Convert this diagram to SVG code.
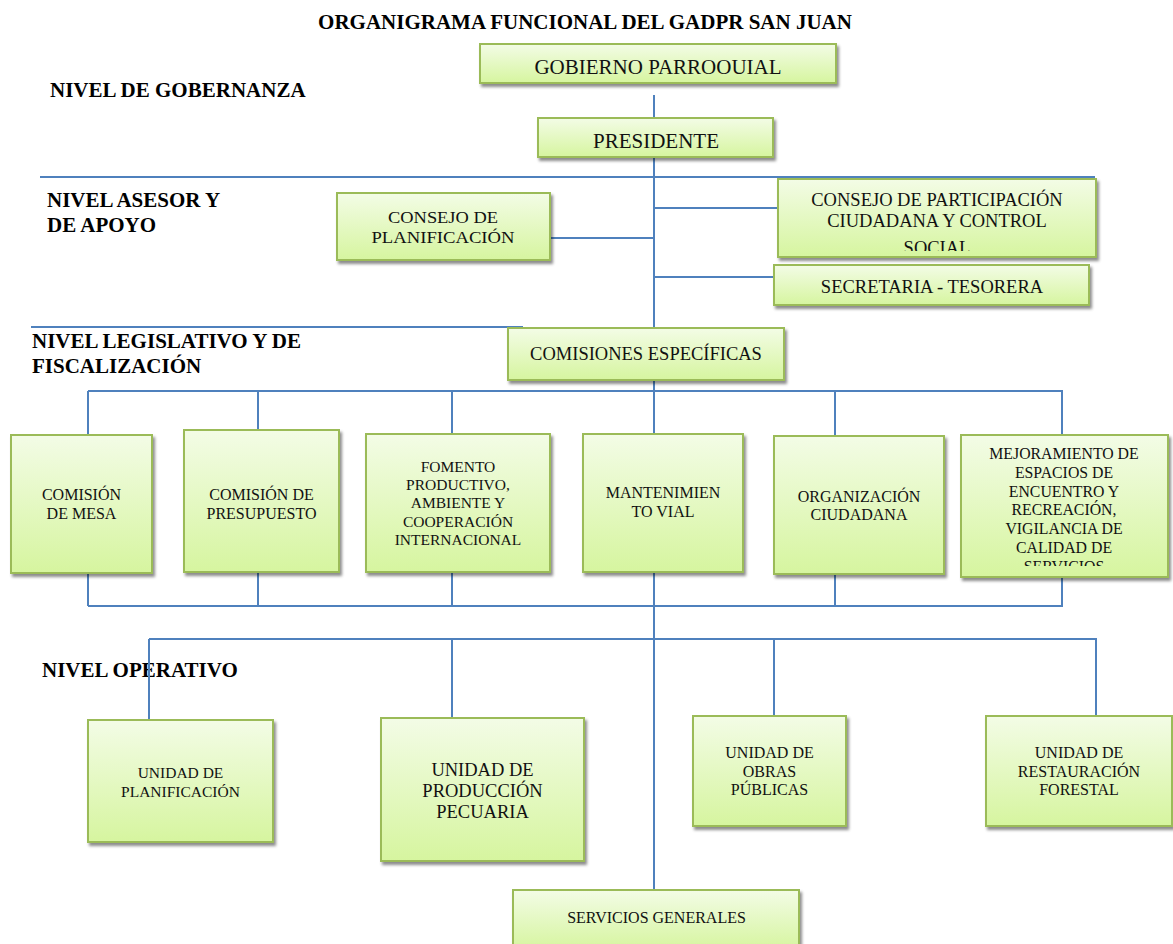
<svg xmlns="http://www.w3.org/2000/svg" width="1173" height="944" viewBox="0 0 1173 944">
<defs>
<linearGradient id="g" x1="0" y1="0" x2="0" y2="1">
<stop offset="0" stop-color="#f3fce6"/>
<stop offset="1" stop-color="#d6f59f"/>
</linearGradient>
<filter id="sh" x="-10%" y="-10%" width="125%" height="130%">
<feDropShadow dx="2" dy="3" stdDeviation="1.8" flood-color="#000" flood-opacity="0.45"/>
</filter>
<clipPath id="c1"><rect x="778" y="179" width="318" height="72"/></clipPath>
<clipPath id="c2"><rect x="961" y="435" width="207" height="131"/></clipPath>
</defs>
<style>
.b{fill:url(#g);stroke:#9bbb59;stroke-width:2;filter:url(#sh)}
.t{font-family:"Liberation Serif","Times New Roman",serif;fill:#111;text-anchor:middle}
.h{font-family:"Liberation Serif","Times New Roman",serif;font-weight:bold;fill:#000;font-size:21px}
.l{stroke:#4f81bd;stroke-width:2;fill:none}
</style>
<rect width="1173" height="944" fill="#fff"/>
<text class="h" x="585" y="29" text-anchor="middle">ORGANIGRAMA FUNCIONAL DEL GADPR SAN JUAN</text>
<g id="labels">
<text class="h" x="50" y="97">NIVEL DE GOBERNANZA</text>
<text class="h" x="47" y="207">NIVEL ASESOR Y</text>
<text class="h" x="47" y="232">DE APOYO</text>
<text class="h" x="32" y="348">NIVEL LEGISLATIVO Y DE</text>
<text class="h" x="32" y="373">FISCALIZACIÓN</text>
<text class="h" x="42" y="677">NIVEL OPERATIVO</text>
</g>
<g id="connectors">
<path class="l" d="M654 95V890"/>
<path class="l" d="M40 177H1095"/>
<path class="l" d="M550 238H654"/>
<path class="l" d="M654 208H778"/>
<path class="l" d="M654 277H774"/>
<path class="l" d="M31 327H523"/>
<path class="l" d="M88 391H1063"/>
<path class="l" d="M88 391V435M258 391V430M452 391V434M835 391V436M1062 391V435"/>
<path class="l" d="M88 573V606M258 572V606M452 572V606M835 574V606M1062 577V606"/>
<path class="l" d="M88 606H1063"/>
<path class="l" d="M149 639H1097"/>
<path class="l" d="M149 639V720M452 639V718M774 639V716M1096 639V716"/>
</g>
<g id="n1"><rect class="b" x="480" y="44" width="356" height="39"/><text class="t" x="658" y="74" font-size="21">GOBIERNO PARROOUIAL</text></g>
<g id="n2"><rect class="b" x="538" y="118" width="235" height="39"/><text class="t" x="656" y="148" font-size="21">PRESIDENTE</text></g>
<g id="n3"><rect class="b" x="337" y="193" width="213" height="67"/><text class="t" x="443" y="223" font-size="17" textLength="110" lengthAdjust="spacingAndGlyphs">CONSEJO DE</text><text class="t" x="443" y="243" font-size="17" textLength="143" lengthAdjust="spacingAndGlyphs">PLANIFICACIÓN</text></g>
<g id="n4"><rect class="b" x="778" y="179" width="318" height="78"/><g clip-path="url(#c1)"><text class="t" x="937" y="206" font-size="18.5">CONSEJO DE PARTICIPACIÓN</text><text class="t" x="937" y="227" font-size="18.5">CIUDADANA Y CONTROL</text><text class="t" x="937" y="254" font-size="18.5">SOCIAL</text></g></g>
<g id="n5"><rect class="b" x="774" y="265" width="315" height="40"/><text class="t" x="932" y="293" font-size="18.5">SECRETARIA - TESORERA</text></g>
<g id="n6"><rect class="b" x="508" y="328" width="276" height="52"/><text class="t" x="646" y="360" font-size="18.5">COMISIONES ESPECÍFICAS</text></g>
<g id="k1"><rect class="b" x="11" y="435" width="141" height="138"/><text class="t" x="81.5" y="500" font-size="16">COMISIÓN</text><text class="t" x="81.5" y="519" font-size="16">DE MESA</text></g>
<g id="k2"><rect class="b" x="184" y="430" width="155" height="142"/><text class="t" x="261.5" y="500" font-size="16">COMISIÓN DE</text><text class="t" x="261.5" y="519" font-size="16">PRESUPUESTO</text></g>
<g id="k3"><rect class="b" x="366" y="434" width="184" height="138"/><text class="t" x="458" y="472" font-size="15.5">FOMENTO</text><text class="t" x="458" y="490" font-size="15.5">PRODUCTIVO,</text><text class="t" x="458" y="508" font-size="15.5">AMBIENTE Y</text><text class="t" x="458" y="527" font-size="15.5">COOPERACIÓN</text><text class="t" x="458" y="545" font-size="15.5">INTERNACIONAL</text></g>
<g id="k4"><rect class="b" x="583" y="434" width="160" height="138"/><text class="t" x="663" y="498" font-size="16">MANTENIMIEN</text><text class="t" x="663" y="517" font-size="16">TO VIAL</text></g>
<g id="k5"><rect class="b" x="774" y="436" width="170" height="138"/><text class="t" x="859" y="502" font-size="16">ORGANIZACIÓN</text><text class="t" x="859" y="520" font-size="16">CIUDADANA</text></g>
<g id="k6"><rect class="b" x="961" y="435" width="207" height="142"/><g clip-path="url(#c2)"><text class="t" x="1064" y="459" font-size="15.8">MEJORAMIENTO DE</text><text class="t" x="1064" y="478" font-size="15.8">ESPACIOS DE</text><text class="t" x="1064" y="497" font-size="15.8">ENCUENTRO Y</text><text class="t" x="1064" y="515" font-size="15.8">RECREACIÓN,</text><text class="t" x="1064" y="534" font-size="15.8">VIGILANCIA DE</text><text class="t" x="1064" y="553" font-size="15.8">CALIDAD DE</text><text class="t" x="1064" y="572" font-size="15.8">SERVICIOS</text></g></g>
<g id="u1"><rect class="b" x="88" y="720" width="185" height="122"/><text class="t" x="180.5" y="778" font-size="15.5">UNIDAD DE</text><text class="t" x="180.5" y="797" font-size="15.5">PLANIFICACIÓN</text></g>
<g id="u2"><rect class="b" x="381" y="718" width="203" height="143"/><text class="t" x="482.5" y="776" font-size="18.5">UNIDAD DE</text><text class="t" x="482.5" y="797" font-size="18.5">PRODUCCIÓN</text><text class="t" x="482.5" y="818" font-size="18.5">PECUARIA</text></g>
<g id="u3"><rect class="b" x="693" y="716" width="153" height="110"/><text class="t" x="769.5" y="758" font-size="16">UNIDAD DE</text><text class="t" x="769.5" y="777" font-size="16">OBRAS</text><text class="t" x="769.5" y="795" font-size="16">PÚBLICAS</text></g>
<g id="u4"><rect class="b" x="986" y="716" width="186" height="110"/><text class="t" x="1079" y="758" font-size="16">UNIDAD DE</text><text class="t" x="1079" y="777" font-size="16">RESTAURACIÓN</text><text class="t" x="1079" y="795" font-size="16">FORESTAL</text></g>
<g id="u5"><rect class="b" x="513" y="890" width="286" height="60"/><text class="t" x="656.5" y="923" font-size="16">SERVICIOS GENERALES</text></g>
</svg>
